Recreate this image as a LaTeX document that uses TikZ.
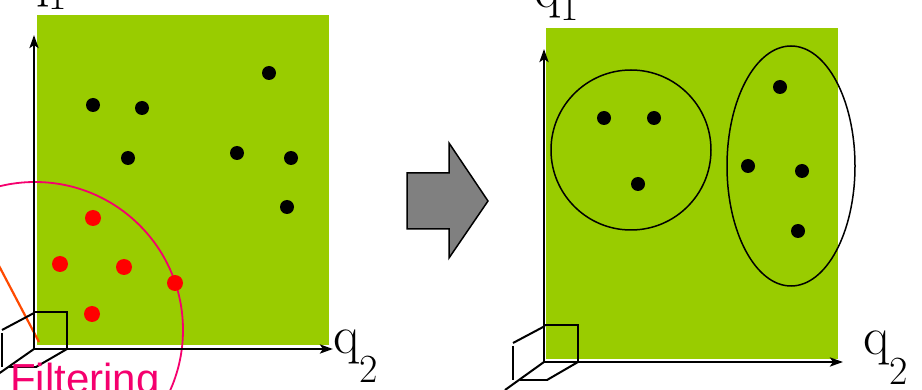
\documentclass[tikz,border=0pt]{standalone}
\usepackage{fontspec}
\newfontfamily\arialfont{Liberation Sans}
\usetikzlibrary{arrows.meta}
\definecolor{panelgreen}{HTML}{99CC00}
\definecolor{filterpink}{HTML}{F5006E}
\definecolor{orangeline}{HTML}{FF4A00}
\definecolor{arrowgray}{HTML}{808080}
\newcommand\qsub[2]{\raisebox{-#2pt}{\fontsize{40}{40}\selectfont #1}}
\begin{document}
\begin{tikzpicture}[x=1pt,y=-1pt,
  axis/.style={line width=2.5pt,-{Stealth[length=13pt,width=9pt,inset=3pt]}},
  cubeline/.style={line width=2pt},
  bdot/.style={circle,fill=black,inner sep=0,minimum size=14pt},
  rdot/.style={circle,fill=red,inner sep=0,minimum size=16pt},
  panel/.style={fill=panelgreen},
  qlabel/.style={inner sep=0,anchor=base west,font=\fontsize{54}{54}\selectfont},
  group/.style={draw=black,line width=1.5pt},
  bigarrow/.style={fill=arrowgray,draw=black,line width=1.5pt,line join=miter}
]
\clip (0,0) rectangle (922,390);
\fill[white] (0,0) rectangle (922,390);

% ---------- left panel ----------
\fill[panel] (37,15) rectangle (329,345);
\draw[filterpink,line width=1.8pt] (35,330) circle[radius=148pt];
\draw[orangeline,line width=2.2pt] (-3,262) -- (39,342);

\node[bdot] (b1) at (93,105) {};
\node[bdot] (b2) at (142,108) {};
\node[bdot] (b3) at (269,73) {};
\node[bdot] (b4) at (128,158) {};
\node[bdot] (b5) at (237,153) {};
\node[bdot] (b6) at (291,158) {};
\node[bdot] (b7) at (287,207) {};
\node[rdot] (r1) at (93,218) {};
\node[rdot] (r2) at (60,264) {};
\node[rdot] (r3) at (124,267) {};
\node[rdot] (r4) at (175,283) {};
\node[rdot] (r5) at (92,314) {};

\coordinate (oL) at (34,349);
\coordinate (yL) at (34,35);
\coordinate (xL) at (333,349);
\draw[axis] (oL) -- (yL);
\draw[axis] (oL) -- (xL);
% cube
\draw[cubeline] (34,312) -- (67,312) -- (67,349);
\draw[cubeline] (34,313) -- (2,330);
\draw[cubeline] (2,333) -- (2,367);
\draw[cubeline] (67,349) -- (36,367);
\draw[cubeline] (9,367) -- (37,367);
\draw[cubeline] (oL) -- (-6,377);

\node[qlabel] (q1L) at (22,-3) {q\qsub{1}{13}};
\node[qlabel] (q2L) at (333,353) {q\qsub{2}{30}};
\node[inner sep=0,anchor=base west,text=filterpink,font=\arialfont\fontsize{42}{42}\selectfont] (filt) at (10,393) {Filtering};

% ---------- arrow ----------
\draw[bigarrow] (407,173) -- (449,173) -- (449,143) -- (488,201) -- (449,258) -- (449,229) -- (407,229) -- cycle;

% ---------- right panel ----------
\fill[panel] (546,28) rectangle (838,359);
\node[bdot] (c1) at (604,118) {};
\node[bdot] (c2) at (654,118) {};
\node[bdot] (c3) at (638,184) {};
\node[bdot] (c4) at (780,87) {};
\node[bdot] (c5) at (748,166) {};
\node[bdot] (c6) at (802,171) {};
\node[bdot] (c7) at (798,231) {};
\draw[group] (631,150) ellipse[x radius=80pt,y radius=80pt];
\draw[group] (791,166) ellipse[x radius=64pt,y radius=120pt];

\coordinate (oR) at (544,362);
\coordinate (yR) at (544,49);
\coordinate (xR) at (843,362);
\draw[axis] (oR) -- (yR);
\draw[axis] (oR) -- (xR);
\draw[cubeline] (545,325) -- (578,325) -- (578,362);
\draw[cubeline] (545,326) -- (513,343);
\draw[cubeline] (513,346) -- (513,380);
\draw[cubeline] (578,362) -- (547,380);
\draw[cubeline] (520,380) -- (548,380);
\draw[cubeline] (oR) -- (505,390);

\node[qlabel] (q1R) at (534,8) {q\qsub{1}{13}};
\node[qlabel] (q2R) at (863,355) {q\qsub{2}{30}};
\end{tikzpicture}
\end{document}
